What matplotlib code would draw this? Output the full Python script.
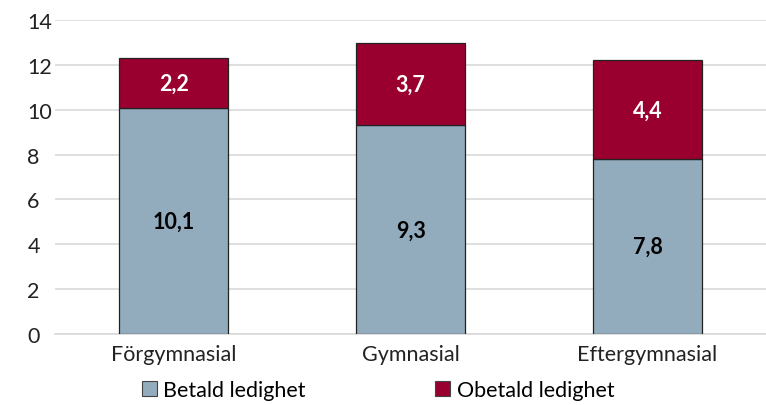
import numpy as np
import matplotlib.pyplot as plt
from matplotlib.patches import Patch

plt.rcParams['font.family'] = ['Lato', 'DejaVu Sans']

categories = ['Förgymnasial', 'Gymnasial', 'Eftergymnasial']
betald = [10.1, 9.3, 7.8]
obetald = [2.2, 3.7, 4.4]
series_names = ['Betald ledighet', 'Obetald ledighet']
yticks = [0, 2, 4, 6, 8, 10, 12, 14]

blue = '#93acbd'
red = '#990030'

fig = plt.figure(figsize=(7.66, 4.06), dpi=100)
ax = fig.add_axes([0.072, 0.175, 0.928, 0.773])

x = np.arange(len(categories))
w = 0.46
ax.bar(x, betald, w, color=blue, edgecolor='#222222', linewidth=0.9, zorder=3)
ax.bar(x, obetald, w, bottom=betald, color=red, edgecolor='#222222', linewidth=0.9, zorder=3)

for i in range(len(categories)):
    ax.text(x[i], betald[i] / 2, f'{betald[i]:.1f}'.replace('.', ','),
            ha='center', va='center', fontsize=15.5, fontweight='bold', color='black', zorder=4)
    ax.text(x[i], betald[i] + obetald[i] / 2, f'{obetald[i]:.1f}'.replace('.', ','),
            ha='center', va='center', fontsize=15.5, fontweight='bold', color='white', zorder=4)

ax.set_xlim(-0.5, 2.5)
ax.set_ylim(0, 14)
ax.set_yticks(yticks)
ax.set_xticks(x)
ax.set_xticklabels(categories)
ax.tick_params(axis='both', length=0, labelsize=15.5, colors='#222222')
ax.tick_params(axis='x', pad=7)
ax.tick_params(axis='y', pad=20)
for lab in ax.get_yticklabels():
    lab.set_horizontalalignment('left')
ax.grid(axis='y', color='#d9d9d9', linewidth=1.2, zorder=0)
for s in ['top', 'right', 'left']:
    ax.spines[s].set_visible(False)
ax.spines['bottom'].set_color('#d9d9d9')
ax.spines['bottom'].set_linewidth(1.2)

handles = [Patch(facecolor=blue, edgecolor='#444444', linewidth=0.8),
           Patch(facecolor=red, edgecolor='#444444', linewidth=0.8)]
fig.legend(handles, series_names, loc='lower left', bbox_to_anchor=(0.160, -0.035),
           ncol=2, frameon=False, fontsize=15.5, handlelength=0.7, handleheight=0.7,
           handletextpad=0.3, columnspacing=6.0)

fig.savefig('out.png', dpi=100)
